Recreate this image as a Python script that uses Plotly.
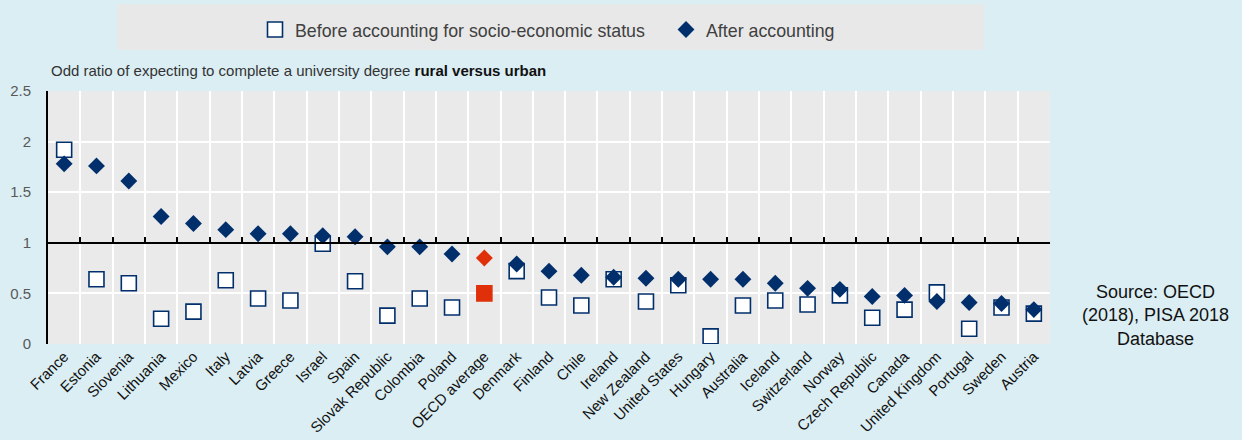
import plotly.graph_objects as go

countries = ["France", "Estonia", "Slovenia", "Lithuania", "Mexico", "Italy", "Latvia", "Greece",
             "Israel", "Spain", "Slovak Republic", "Colombia", "Poland", "OECD average", "Denmark",
             "Finland", "Chile", "Ireland", "New Zealand", "United States", "Hungary", "Australia",
             "Iceland", "Switzerland", "Norway", "Czech Republic", "Canada", "United Kingdom",
             "Portugal", "Sweden", "Austria"]

before = [1.92, 0.64, 0.60, 0.25, 0.32, 0.63, 0.45, 0.43, 0.99, 0.62, 0.28, 0.45, 0.36, 0.50,
          0.72, 0.46, 0.38, 0.64, 0.42, 0.58, 0.075, 0.38, 0.43, 0.39, 0.48, 0.26, 0.34, 0.51,
          0.15, 0.36, 0.30]

after = [1.78, 1.76, 1.61, 1.26, 1.19, 1.13, 1.09, 1.09, 1.07, 1.06, 0.96, 0.96, 0.89, 0.85,
         0.79, 0.72, 0.68, 0.66, 0.65, 0.64, 0.64, 0.64, 0.60, 0.55, 0.54, 0.47, 0.48, 0.42,
         0.41, 0.40, 0.34]

y_ticks = [0, 0.5, 1, 1.5, 2, 2.5]
y_tick_labels = ["0", "0.5", "1", "1.5", "2", "2.5"]

NAVY = "#002F6C"
RED = "#E0300A"
ARIAL = "Liberation Sans, Arial, sans-serif"

sq_fill = [RED if c == "OECD average" else "white" for c in countries]
sq_line = [RED if c == "OECD average" else NAVY for c in countries]
dm_col = [RED if c == "OECD average" else NAVY for c in countries]

fig = go.Figure()
fig.add_trace(go.Scatter(
    x=countries, y=before, mode="markers", name="Before accounting for socio-economic status",
    marker=dict(symbol="square", size=15, color=sq_fill, line=dict(color=sq_line, width=1.6)),
))
fig.add_trace(go.Scatter(
    x=countries, y=after, mode="markers", name="After accounting",
    marker=dict(symbol="diamond", size=13, color=dm_col, line=dict(width=0)),
))
# invisible helper trace for the reference axes (line at 1 and y end caps)
fig.add_trace(go.Scatter(
    x=countries, y=after, mode="markers", xaxis="x2", yaxis="y2", showlegend=False,
    hoverinfo="skip", marker=dict(opacity=0),
))

W, H = 1242, 440
n = len(countries)
fig.update_layout(
    width=W, height=H,
    paper_bgcolor="#DBEEF3", plot_bgcolor="#EAEAEA",
    margin=dict(l=48, r=192, t=91, b=96, autoexpand=False),
    showlegend=True,
    legend=dict(orientation="h", xref="container", yref="container",
                x=255 / W, xanchor="left", y=1 - 30 / H, yanchor="middle",
                bgcolor="rgba(0,0,0,0)", font=dict(family=ARIAL, size=17.8, color="#404040"),
                entrywidth=366, itemsizing="trace"),
    xaxis=dict(type="category", categoryorder="array", categoryarray=countries,
               range=[-0.5, n - 0.5], autorange=False,
               tickson="boundaries", showgrid=True, gridcolor="white", gridwidth=1.6,
               ticks="", showline=False, zeroline=False, tickangle=-45, automargin=False,
               tickfont=dict(family=ARIAL, size=15, color="#111111")),
    yaxis=dict(range=[0, 2.5], autorange=False, tickvals=y_ticks, ticktext=y_tick_labels,
               showgrid=True, gridcolor="white", gridwidth=1.6, zeroline=False, showline=True,
               linecolor="black", linewidth=2, ticks="", ticklabelstandoff=12, automargin=False,
               tickfont=dict(family=ARIAL, size=15, color="#595959")),
    xaxis2=dict(matches="x", overlaying="x", anchor="free", position=0.4, side="bottom",
                showline=True, linecolor="black", linewidth=2, ticks="inside", ticklen=5,
                tickwidth=1.5, tickcolor="black", tickson="boundaries", showticklabels=False,
                showgrid=False, zeroline=False, automargin=False),
    yaxis2=dict(matches="y", overlaying="y", anchor="free", position=0, side="left",
                showline=False, ticks="inside", tickvals=[0, 2.5], ticklen=5, tickwidth=2,
                tickcolor="black", showticklabels=False, showgrid=False, zeroline=False,
                automargin=False),
    shapes=[dict(type="rect", xref="paper", yref="paper", x0=0.0689, x1=0.934, y0=1.162, y1=1.343,
                 fillcolor="#E8E8E8", line=dict(width=0), layer="below")],
    annotations=[
        dict(xref="paper", yref="paper", x=0.001, y=1.083, xanchor="left", yanchor="middle",
             showarrow=False,
             text="<span style='color:#333333'>Odd ratio of expecting to complete a university degree </span>"
                  "<b>rural versus urban</b>",
             font=dict(family=ARIAL, size=15, color="#111111")),
        dict(xref="paper", yref="paper", x=1.105, y=0.111, xanchor="center", yanchor="middle",
             showarrow=False, align="center",
             text="Source: OECD<br>(2018), PISA 2018<br>Database",
             font=dict(family=ARIAL, size=18, color="#111111")),
    ],
)

fig.write_html("out.html", config={"displayModeBar": False},
               post_script="document.body.style.margin='0';document.body.style.padding='0';")
